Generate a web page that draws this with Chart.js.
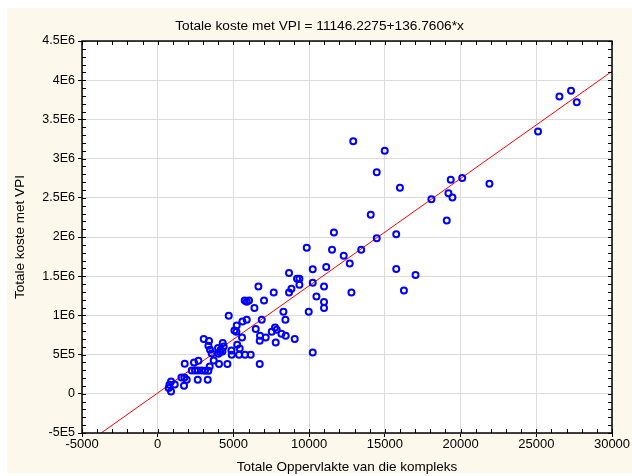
<!DOCTYPE html>
<html>
<head>
<meta charset="utf-8">
<script src="https://cdn.jsdelivr.net/npm/chart.js@4.4.1/dist/chart.umd.min.js"></script>
<style>
  html, body { margin: 0; padding: 0; background: #ffffff; }
  #wrap { width: 632px; height: 476px; }
</style>
</head>
<body>
<div id="wrap"><canvas id="myChart" width="632" height="476"></canvas></div>
<script>
// Totale Oppervlakte van die kompleks (x) vs Totale koste met VPI (y)
var areaValues = [
    878, 773, 1123, 726, 878, 1565, 1763, 1737, 1915, 1783,
    2245, 2463, 2661, 2397, 2688, 2642, 3302, 2906, 3124, 3348,
    3434, 3698, 4048, 4603, 3038, 3388, 3348, 3454, 3566, 4009,
    4114, 4273, 4161, 4293, 4359, 3982, 4867, 4887, 5250, 5415,
    5369, 5765, 6142, 4689, 5065, 5197, 5217, 5594, 5878, 5567,
    5745, 5878, 6029, 6386, 6472, 6650, 6868, 6756, 6736, 6736,
    7020, 7132, 7661, 7529, 7747, 7859, 7793, 8169, 8453, 8301,
    8433, 9047, 8671, 9199, 9358, 9358, 8830, 8671, 9840, 10236,
    10236, 10481, 10982, 10982, 10982, 9972, 10236, 11128, 11511, 11636,
    12283, 12680, 13439, 12792, 12911, 14067, 14463, 14463, 14991, 15751,
    15751, 15995, 16259, 17025, 18075, 19086, 19198, 19350, 19462, 20109,
    21905, 25115, 26528, 27294, 27671
];
var costValues = [
    157000, 114800, 118600, 72700, 29300, 207900, 207900, 102000, 178600, 382700,
    297200, 297200, 297200, 399200, 420900, 178600, 178600, 297200, 293400, 293400,
    348200, 424700, 378800, 378800, 697700, 672200, 612200, 561200, 514000, 510200,
    531900, 539500, 561200, 646700, 603300, 582900, 552300, 497400, 625000, 577800,
    497400, 497400, 497400, 994900, 807400, 790800, 871200, 922200, 943900, 718100,
    1190000, 1173500, 1190000, 1093100, 825200, 1368600, 943900, 739800, 676000, 378800,
    1190000, 718100, 1292100, 790800, 845700, 816300, 654300, 765300, 739800, 1045900,
    943900, 697700, 1539500, 1466800, 1466800, 1390300, 1339300, 1292100, 1862200, 1588000,
    1415800, 1241100, 1368600, 1169600, 1093100, 1045900, 526800, 1616100, 1836700, 2057400,
    1760200, 1662000, 1836700, 1292100, 3220600, 2283100, 2827800, 1983400, 3099500, 2034400,
    1590500, 2627500, 1317600, 1514000, 2483400, 2210400, 2559900, 2729600, 2503800, 2751300,
    2678600, 3345600, 3792100, 3864800, 3720600
];

// regression line end points (11146.2275 + 136.7606*x)
var fitX = [-3737, 30000];
var fitY = [-500000, 4113964];

var xTicks = [-5000, 0, 5000, 10000, 15000, 20000, 25000, 30000];
var xTickLabels = ['-5000', '0', '5000', '10000', '15000', '20000', '25000', '30000'];
var yTicks = [-500000, 0, 500000, 1000000, 1500000, 2000000, 2500000, 3000000, 3500000, 4000000, 4500000];
var yTickLabels = ['-5E5', '0', '5E5', '1E6', '1.5E6', '2E6', '2.5E6', '3E6', '3.5E6', '4E6', '4.5E6'];

var titleText = 'Totale koste met VPI = 11146.2275+136.7606*x';
var xTitle = 'Totale Oppervlakte van die kompleks';
var yTitle = 'Totale koste met VPI';

var fontName = '"Liberation Sans", Arial, sans-serif';

var points = [];
for (var i = 0; i < areaValues.length; i++) {
    points.push({ x: areaValues[i], y: costValues[i] });
}

// panel background + frame with small inner ticks
var framePlugin = {
    id: 'frame',
    beforeDraw: function (chart) {
        var ctx = chart.ctx;
        var a = chart.chartArea;
        ctx.save();
        ctx.fillStyle = '#ffffff';
        ctx.fillRect(0, 0, chart.width, chart.height);
        ctx.fillStyle = '#fdf8ec';
        ctx.fillRect(7, 8, chart.width - 7, chart.height - 11);
        ctx.fillStyle = '#ffffff';
        ctx.fillRect(a.left, a.top, a.right - a.left, a.bottom - a.top);
        ctx.restore();
    },
    afterDraw: function (chart) {
        var ctx = chart.ctx;
        var a = chart.chartArea;
        var xs = chart.scales.x;
        var ys = chart.scales.y;
        ctx.save();
        ctx.strokeStyle = '#000000';
        ctx.lineWidth = 1;
        ctx.beginPath();
        for (var v = -5000; v <= 30000; v += 1000) {
            var px = Math.round(xs.getPixelForValue(v)) + 0.5;
            ctx.moveTo(px, a.bottom);
            ctx.lineTo(px, a.bottom - 4);
            ctx.moveTo(px, a.top);
            ctx.lineTo(px, a.top + 4);
        }
        for (var w = -500000; w <= 4500000; w += 100000) {
            var py = Math.round(ys.getPixelForValue(w)) + 0.5;
            ctx.moveTo(a.left, py);
            ctx.lineTo(a.left + 4, py);
            ctx.moveTo(a.right, py);
            ctx.lineTo(a.right - 4, py);
        }
        ctx.stroke();
        ctx.lineWidth = 1.5;
        ctx.strokeRect(a.left, a.top, a.right - a.left, a.bottom - a.top);
        ctx.restore();
    }
};

new Chart('myChart', {
    type: 'scatter',
    data: {
        datasets: [{
            type: 'line',
            data: [{ x: fitX[0], y: fitY[0] }, { x: fitX[1], y: fitY[1] }],
            borderColor: '#ff0000',
            borderWidth: 1,
            pointRadius: 0,
            fill: false,
            order: 2
        }, {
            data: points,
            borderColor: '#0000ff',
            backgroundColor: 'rgba(0,0,0,0)',
            borderWidth: 2,
            pointRadius: 3,
            pointHoverRadius: 3,
            order: 1
        }]
    },
    options: {
        responsive: false,
        animation: false,
        layout: { padding: { left: 7, right: 0, top: 0, bottom: 0 } },
        plugins: {
            legend: { display: false },
            tooltip: { enabled: false },
            title: {
                display: true,
                text: titleText,
                color: '#000000',
                font: { family: fontName, size: 13.7, weight: 'normal', lineHeight: 1.2 },
                padding: { top: 17.8, bottom: 6.8 }
            }
        },
        scales: {
            x: {
                type: 'linear',
                min: -5000,
                max: 30000,
                afterBuildTicks: function (scale) {
                    scale.ticks = xTicks.map(function (v) { return { value: v }; });
                },
                afterFit: function (scale) { scale.height = 43; },
                ticks: {
                    color: '#000000',
                    font: { family: fontName, size: 13 },
                    padding: 0,
                    maxRotation: 0,
                    autoSkip: false,
                    callback: function (v) { return xTickLabels[xTicks.indexOf(v)]; }
                },
                grid: { color: '#dcdcdc', tickColor: '#000000', tickLength: 4, drawTicks: true },
                border: { display: false },
                title: {
                    display: true,
                    text: xTitle,
                    color: '#000000',
                    font: { family: fontName, size: 13.5, lineHeight: 1.2 },
                    padding: { top: 0, bottom: 1 }
                }
            },
            y: {
                type: 'linear',
                min: -500000,
                max: 4500000,
                afterBuildTicks: function (scale) {
                    scale.ticks = yTicks.map(function (v) { return { value: v }; });
                },
                afterFit: function (scale) { scale.width = 75; },
                ticks: {
                    color: '#000000',
                    font: { family: fontName, size: 12.5 },
                    padding: 3,
                    autoSkip: false,
                    callback: function (v) { return yTickLabels[yTicks.indexOf(v)]; }
                },
                grid: { color: '#dcdcdc', tickColor: '#000000', tickLength: 4, drawTicks: true },
                border: { display: false },
                title: {
                    display: true,
                    text: yTitle,
                    color: '#000000',
                    font: { family: fontName, size: 13.5, lineHeight: 1.2 },
                    padding: { top: 5, bottom: 0 }
                }
            },
            // empty right-side box so the plot ends at the same place as the original
            yRight: {
                type: 'linear',
                position: 'right',
                display: true,
                min: -500000,
                max: 4500000,
                afterFit: function (scale) { scale.width = 20; },
                ticks: { display: false },
                grid: { display: false, drawTicks: false },
                border: { display: false }
            }
        }
    },
    plugins: [framePlugin]
});
</script>
</body>
</html>
